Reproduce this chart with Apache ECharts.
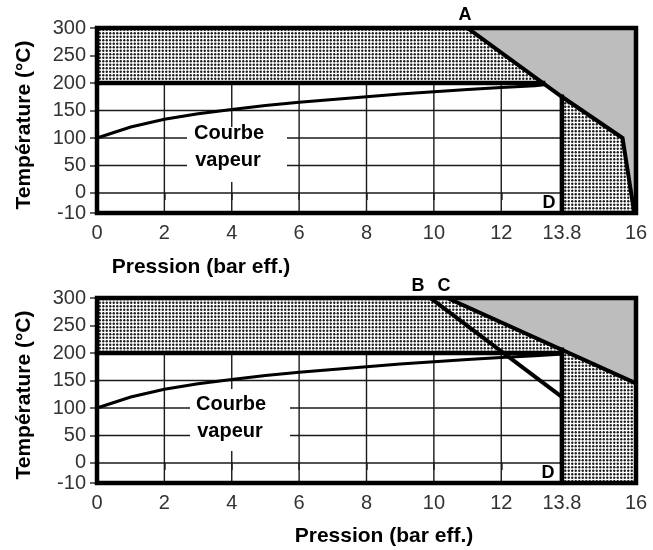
<!DOCTYPE html>
<html>
<head>
<meta charset="utf-8">
<script src="https://cdn.jsdelivr.net/npm/echarts@6/dist/echarts.min.js"></script>
<style>
  html, body { margin: 0; padding: 0; background: #fff; }
  #chart { width: 653px; height: 550px; }
</style>
</head>
<body>
<div id="chart"></div>
<script>
// ---------- data ----------
const pressureTicks = [0, 2, 4, 6, 8, 10, 12, 13.8, 16];
const tempTicks = [-10, 0, 50, 100, 150, 200, 250, 300];
const Y_BOTTOM = -36.4; // axis position where the "-10" label sits (compressed scale)
const gridPressures = [2, 4, 6, 8, 10, 12];
const gridTemps = [0, 50, 100, 150];

// saturated steam curve (Courbe vapeur)
const steamP = [0, 1, 2, 3, 4, 5, 6, 7, 8, 9, 10, 11, 12, 13, 13.8];
const steamT = [100, 120, 134, 144, 152, 159, 165, 170, 175, 180, 184, 188, 192, 195, 198];
const steamEndTop = 13.3;

// chart 1: limit line A
const lineA_P = [11, 13.8, 15.6, 15.95];
const lineA_T = [300, 175, 100, -10];
const limit200Top_P = [0, 13.24];
const limitD_T_top = [-10, 175];

// chart 2: limit lines B and C
const lineB_P = [9.9, 13.8];
const lineB_T = [300, 120];
const lineC_P = [10.4, 16];
const lineC_T = [300, 145];
const limit200Bot_P = [0, 13.8];
const limitD_T_bot = [-10, 206];

// filled zones [pressure, temperature]
const grayTop = [[11, 300], [16, 300], [16, -10], [15.95, -10], [15.6, 100], [13.8, 175]];
const dotsTop1 = [[0, 200], [0, 300], [11, 300], [13.24, 200]];
const dotsTop2 = [[13.8, -10], [13.8, 175], [15.6, 100], [15.95, -10]];
const grayBot = [[10.4, 300], [16, 300], [16, 145]];
const dotsBot1 = [[0, 200], [0, 300], [10.4, 300], [13.8, 206], [13.8, 200]];
const dotsBot2 = [[13.8, -10], [13.8, 206], [16, 145], [16, -10]];

// ---------- helpers ----------
const toAxis = t => (t === -10 ? Y_BOTTOM : t);
const pairs = (P, T) => P.map((p, i) => [p, toAxis(T[i])]);
const FONT = '"Liberation Sans", Arial, Helvetica, sans-serif';

// dotted pattern
const pat = document.createElement('canvas');
pat.width = 7; pat.height = 7;
(function () {
  const c = pat.getContext('2d');
  c.fillStyle = '#ffffff';
  c.fillRect(0, 0, 7, 7);
  c.fillStyle = '#1e1e1e';
  [[1.75, 1.75], [5.25, 1.75], [1.75, 5.25], [5.25, 5.25]].forEach(([x, y]) => {
    c.beginPath(); c.arc(x, y, 1.2, 0, Math.PI * 2); c.fill();
  });
})();

function polySeries(idx, polys, fill, z) {
  return {
    type: 'custom', xAxisIndex: idx, yAxisIndex: idx, z: z, silent: true, clip: true,
    data: polys.map((p, i) => [i]),
    renderItem: function (params, api) {
      const poly = polys[params.dataIndex];
      const pts = poly.map(([p, t]) => api.coord([p, toAxis(t)]));
      return { type: 'polygon', shape: { points: pts }, style: { fill: fill, stroke: null } };
    }
  };
}

function lineSeries(idx, data, width, z, color, clip) {
  return {
    type: 'line', xAxisIndex: idx, yAxisIndex: idx, data: data, z: z, silent: true,
    showSymbol: false, symbol: 'none', clip: clip !== false, animation: false,
    lineStyle: { color: color || '#000', width: width, cap: 'square', join: 'miter' }
  };
}

function gridSeries(idx, xEnd) {
  const out = [];
  gridPressures.forEach(p => out.push(lineSeries(idx, [[p, Y_BOTTOM], [p, 200]], 1.4, 1, '#1a1a1a')));
  gridTemps.forEach(t => out.push(lineSeries(idx, [[0, t], [xEnd, t]], 1.4, 1, '#1a1a1a')));
  return out;
}

function axesFor(idx) {
  return {
    x: {
      gridIndex: idx, type: 'value', min: 0, max: 16, interval: 2,
      axisLine: { show: false },
      axisTick: { show: true, customValues: pressureTicks, length: 7, lineStyle: { color: '#333', width: 1.5 } },
      axisLabel: { customValues: pressureTicks, formatter: v => String(v), fontSize: 20, color: '#333', margin: 10, fontFamily: FONT },
      splitLine: { show: false }
    },
    y: {
      gridIndex: idx, type: 'value', min: Y_BOTTOM, max: 300,
      axisLine: { show: false },
      axisTick: { show: true, customValues: tempTicks.map(toAxis), length: 7, lineStyle: { color: '#333', width: 1.5 } },
      axisLabel: { customValues: tempTicks.map(toAxis), formatter: v => (Math.abs(v - Y_BOTTOM) < 1e-6 ? '-10' : String(v)), fontSize: 20, color: '#333', margin: 11, fontFamily: FONT },
      splitLine: { show: false }
    }
  };
}

const a0 = axesFor(0), a1 = axesFor(1);
const frame = [[0, Y_BOTTOM], [16, Y_BOTTOM], [16, 300], [0, 300], [0, Y_BOTTOM]];

const series = [
  // ---- top chart ----
  ...gridSeries(0, 13.8),
  polySeries(0, [grayTop], '#bdbdbd', 2),
  polySeries(0, [dotsTop1, dotsTop2], { image: pat, repeat: 'repeat' }, 2),
  lineSeries(0, pairs(steamP.filter(p => p <= 13), steamT.slice(0, 14)).concat([[steamEndTop, 197]]), 3, 3),
  lineSeries(0, pairs(limit200Top_P, [200, 200]), 4.5, 4),
  lineSeries(0, pairs([13.8, 13.8], limitD_T_top), 4.5, 4),
  lineSeries(0, pairs(lineA_P, lineA_T), 4, 4),
  lineSeries(0, frame, 4.5, 5, '#000', false),
  // ---- bottom chart ----
  ...gridSeries(1, 13.8),
  polySeries(1, [grayBot], '#bdbdbd', 2),
  polySeries(1, [dotsBot1, dotsBot2], { image: pat, repeat: 'repeat' }, 2),
  lineSeries(1, pairs(steamP, steamT), 3, 3),
  lineSeries(1, pairs(limit200Bot_P, [200, 200]), 4.5, 4),
  lineSeries(1, pairs([13.8, 13.8], limitD_T_bot), 4.5, 4),
  lineSeries(1, pairs(lineB_P, lineB_T), 4, 4),
  lineSeries(1, pairs(lineC_P, lineC_T), 4, 4),
  lineSeries(1, frame, 4.5, 5, '#000', false)
];

function txt(text, x, y, size, opts) {
  return Object.assign({
    type: 'text', z: 100, x: x, y: y,
    style: { text: text, fill: '#000', font: 'bold ' + size + 'px ' + FONT, textAlign: 'center', textVerticalAlign: 'middle' }
  }, opts || {});
}

const graphics = [
  // white label boxes
  { type: 'rect', z: 90, shape: { x: 187, y: 127, width: 100, height: 55 }, style: { fill: '#fff' } },
  { type: 'rect', z: 90, shape: { x: 190, y: 389, width: 100, height: 62 }, style: { fill: '#fff' } },
  txt('Courbe', 229, 133, 20),
  txt('vapeur', 228, 160, 20),
  txt('Courbe', 231, 404, 20),
  txt('vapeur', 230, 431, 20),
  // axis titles
  txt('Température (°C)', 24, 125, 21, { rotation: Math.PI / 2 }),
  txt('Température (°C)', 24, 395, 21, { rotation: Math.PI / 2 }),
  txt('Pression (bar eff.)', 201, 267, 21),
  txt('Pression (bar eff.)', 384, 536, 21),
  // letters
  txt('A', 465, 15, 18),
  txt('D', 549, 203, 18),
  txt('B', 418, 286, 18),
  txt('C', 444, 286, 18),
  txt('D', 548, 473, 18)
];

const chart = echarts.init(document.getElementById('chart'), null, { renderer: 'canvas' });
chart.setOption({
  animation: false,
  backgroundColor: '#fff',
  grid: [
    { left: 97, right: 17, top: 28, height: 185 },
    { left: 97, right: 17, top: 298, height: 185 }
  ],
  xAxis: [a0.x, a1.x],
  yAxis: [a0.y, a1.y],
  series: series,
  graphic: graphics
});
</script>
</body>
</html>
